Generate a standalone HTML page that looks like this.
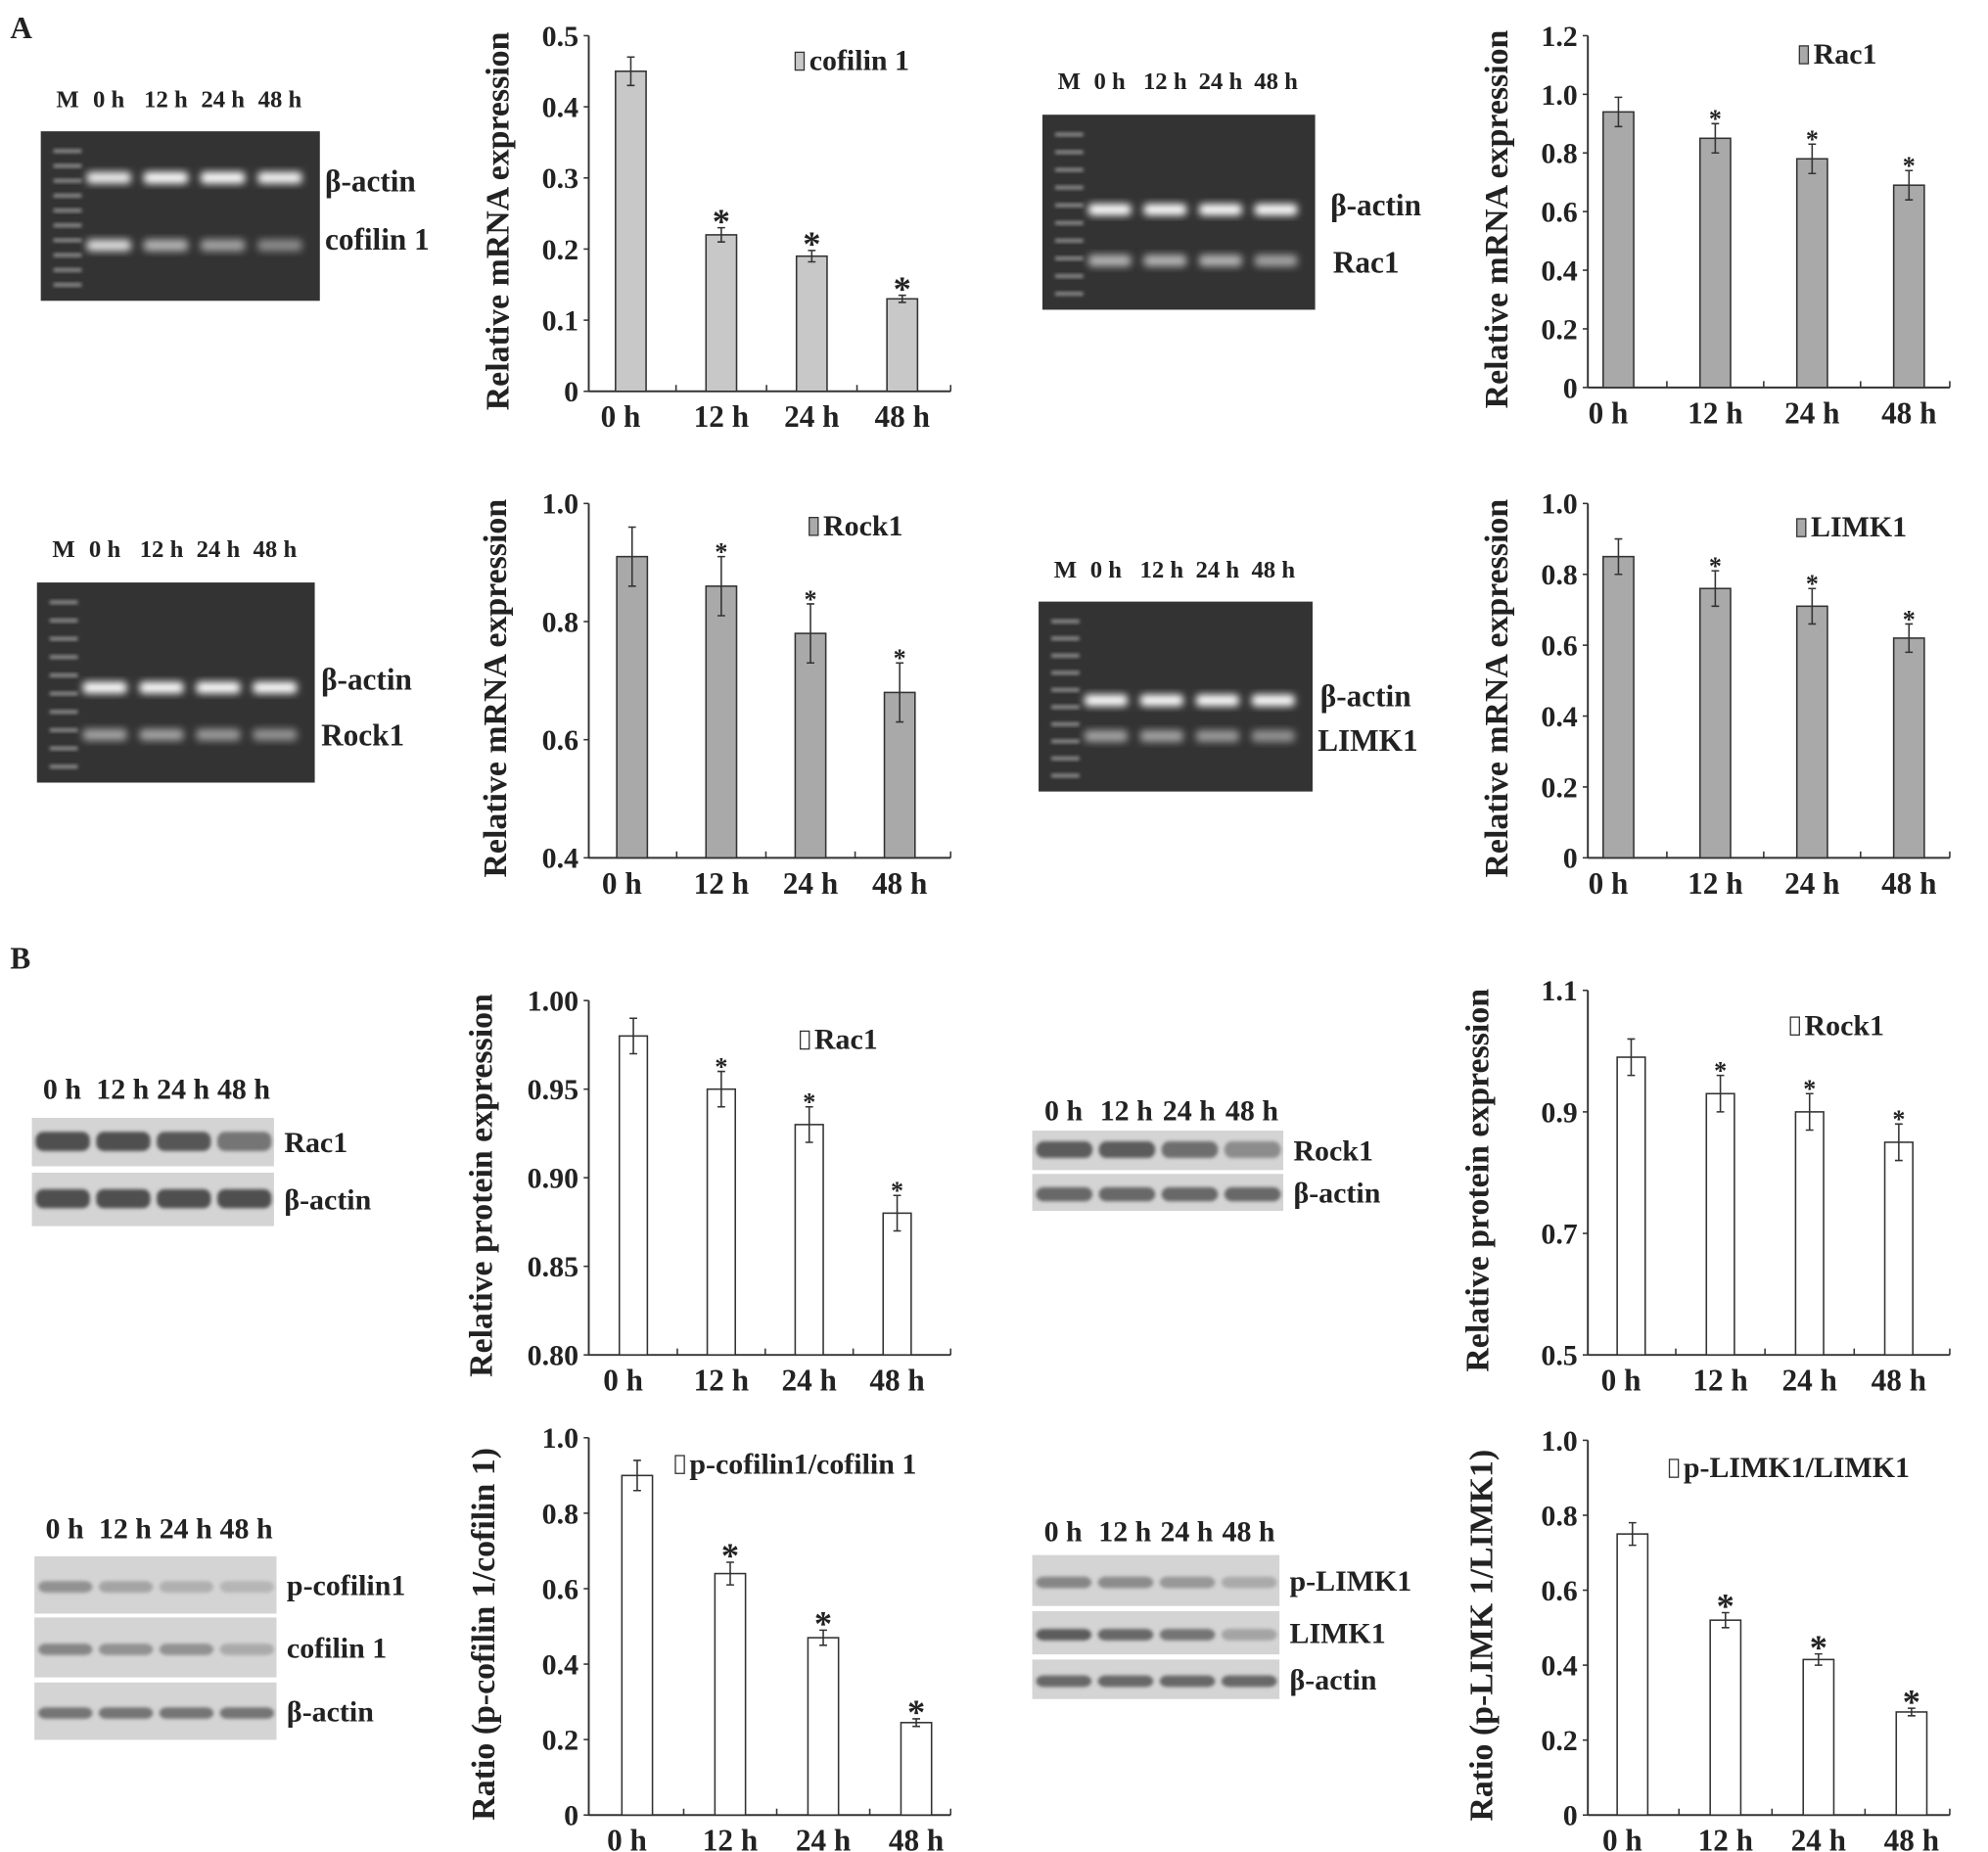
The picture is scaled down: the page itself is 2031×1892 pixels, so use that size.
<!DOCTYPE html>
<html><head><meta charset="utf-8"><style>
html,body{margin:0;padding:0;background:#fff;}
svg{display:block;}
text{font-family:"Liberation Serif",serif;font-weight:bold;fill:#222;}
</style></head><body>
<svg id="fig" xmlns="http://www.w3.org/2000/svg" width="2031" height="1892" viewBox="0 0 1560 1453" preserveAspectRatio="none">
<defs>
<filter id="blur" x="-20%" y="-50%" width="140%" height="200%"><feGaussianBlur stdDeviation="3"/></filter>
<filter id="blur2" x="-20%" y="-50%" width="140%" height="200%"><feGaussianBlur stdDeviation="1.5"/></filter>
</defs>
<text x="8" y="30" font-size="24">A</text>
<text x="8" y="760" font-size="24">B</text>
</svg>
<script>
const categories = ["0 h", "12 h", "24 h", "48 h"];
const cofilinMrnaVals = [0.45, 0.22, 0.19, 0.13];
const cofilinMrnaErr = [0.02, 0.01, 0.008, 0.005];
const rac1MrnaVals = [0.94, 0.85, 0.78, 0.69];
const rac1MrnaErr = [0.05, 0.05, 0.05, 0.05];
const rock1MrnaVals = [0.91, 0.86, 0.78, 0.68];
const rock1MrnaErr = [0.05, 0.05, 0.05, 0.05];
const limk1MrnaVals = [0.85, 0.76, 0.71, 0.62];
const limk1MrnaErr = [0.05, 0.05, 0.05, 0.04];
const rac1ProtVals = [0.98, 0.95, 0.93, 0.88];
const rac1ProtErr = [0.01, 0.01, 0.01, 0.01];
const rock1ProtVals = [0.99, 0.93, 0.90, 0.85];
const rock1ProtErr = [0.03, 0.03, 0.03, 0.03];
const pcofRatioVals = [0.90, 0.64, 0.47, 0.245];
const pcofRatioErr = [0.04, 0.03, 0.02, 0.01];
const plimkRatioVals = [0.75, 0.52, 0.415, 0.275];
const plimkRatioErr = [0.03, 0.02, 0.015, 0.01];
const starFlags = [false, true, true, true];
const ticksA1 = ["0", "0.1", "0.2", "0.3", "0.4", "0.5"];
const ticksA2 = ["0", "0.2", "0.4", "0.6", "0.8", "1.0", "1.2"];
const ticksA3 = ["0.4", "0.6", "0.8", "1.0"];
const ticksA4 = ["0", "0.2", "0.4", "0.6", "0.8", "1.0"];
const ticksB1 = ["0.80", "0.85", "0.90", "0.95", "1.00"];
const ticksB2 = ["0.5", "0.7", "0.9", "1.1"];
const ticksB3 = ["0", "0.2", "0.4", "0.6", "0.8", "1.0"];
const ticksB4 = ["0", "0.2", "0.4", "0.6", "0.8", "1.0"];

const NS = "http://www.w3.org/2000/svg";
const svg = document.getElementById("fig");
function mk(tag, attrs, parent) {
  const e = document.createElementNS(NS, tag);
  for (const k in attrs) e.setAttribute(k, attrs[k]);
  (parent || svg).appendChild(e);
  return e;
}
function txt(x, y, s, size, parent, anchor) {
  const t = mk("text", {x: x, y: y, "font-size": size, "text-anchor": anchor || "start"}, parent);
  t.textContent = s;
  return t;
}

const charts = [
  {id: "cofilin1-mrna", vals: cofilinMrnaVals, err: cofilinMrnaErr, ticks: ticksA1, min: 0, max: 0.5, ax: 462, y0: 307, y1: 28, first: 33, step: 71, bw: 24, fill: "#c8c8c8", legend: "cofilin 1", lx: 624, ly: 55, title: "Relative mRNA expression", tx: 399, starSize: 28},
  {id: "rac1-mrna", vals: rac1MrnaVals, err: rac1MrnaErr, ticks: ticksA2, min: 0, max: 1.2, ax: 1246, y0: 304, y1: 28, first: 24, step: 76, bw: 24, fill: "#a9a9a9", legend: "Rac1", lx: 1412, ly: 50, title: "Relative mRNA expression", tx: 1183, starSize: 20},
  {id: "rock1-mrna", vals: rock1MrnaVals, err: rock1MrnaErr, ticks: ticksA3, min: 0.4, max: 1.0, ax: 462, y0: 673, y1: 395, first: 34, step: 70, bw: 24, fill: "#a9a9a9", legend: "Rock1", lx: 635, ly: 420, title: "Relative mRNA expression", tx: 397, starSize: 20},
  {id: "limk1-mrna", vals: limk1MrnaVals, err: limk1MrnaErr, ticks: ticksA4, min: 0, max: 1.0, ax: 1246, y0: 673, y1: 395, first: 24, step: 76, bw: 24, fill: "#a9a9a9", legend: "LIMK1", lx: 1410, ly: 421, title: "Relative mRNA expression", tx: 1183, starSize: 20},
  {id: "rac1-protein", vals: rac1ProtVals, err: rac1ProtErr, ticks: ticksB1, min: 0.8, max: 1.0, ax: 462, y0: 1063, y1: 785, first: 35, step: 69, bw: 22, fill: "#ffffff", legend: "Rac1", lx: 628, ly: 823, title: "Relative protein expression", tx: 386, starSize: 20},
  {id: "rock1-protein", vals: rock1ProtVals, err: rock1ProtErr, ticks: ticksB2, min: 0.5, max: 1.1, ax: 1246, y0: 1063, y1: 777, first: 34, step: 70, bw: 22, fill: "#ffffff", legend: "Rock1", lx: 1405, ly: 812, title: "Relative protein expression", tx: 1168, starSize: 20},
  {id: "pcofilin-ratio", vals: pcofRatioVals, err: pcofRatioErr, ticks: ticksB3, min: 0, max: 1.0, ax: 462, y0: 1424, y1: 1128, first: 38, step: 73, bw: 24, fill: "#ffffff", legend: "p-cofilin1/cofilin 1", lx: 530, ly: 1156, title: "Ratio (p-cofilin 1/cofilin 1)", tx: 388, starSize: 28},
  {id: "plimk1-ratio", vals: plimkRatioVals, err: plimkRatioErr, ticks: ticksB4, min: 0, max: 1.0, ax: 1246, y0: 1424, y1: 1130, first: 35, step: 73, bw: 24, fill: "#ffffff", legend: "p-LIMK1/LIMK1", lx: 1310, ly: 1159, title: "Ratio (p-LIMK 1/LIMK1)", tx: 1171, starSize: 28}
];

charts.forEach(c => {
  const g = mk("g", {});
  
  
  const y = v => c.y0 - (v - c.min) / (c.max - c.min) * (c.y0 - c.y1);
  const x = i => c.ax + c.first + i * c.step;
  const xEnd = c.ax + 284;
  const ya = mk("line", {x1: c.ax, y1: c.y1, x2: c.ax, y2: c.y0, stroke: "#333", "stroke-width": 1.5}, g);
  
  
  const xa = mk("line", {x1: c.ax, y1: c.y0, x2: xEnd, y2: c.y0, stroke: "#333", "stroke-width": 1.5}, g);
  
  
  c.ticks.forEach(tk => {
    const v = parseFloat(tk);
    mk("line", {x1: c.ax - 4, y1: y(v), x2: c.ax, y2: y(v), stroke: "#333", "stroke-width": 1.2}, g);
    const t = txt(c.ax - 8, y(v) + 8, tk, 23, g, "end");
    
    
  });
  for (let i = 1; i < categories.length; i++) {
    const xt = (x(i - 1) + x(i)) / 2;
    mk("line", {x1: xt, y1: c.y0, x2: xt, y2: c.y0 - 5, stroke: "#333", "stroke-width": 1.2}, g);
  }
  mk("line", {x1: xEnd, y1: c.y0, x2: xEnd, y2: c.y0 - 5, stroke: "#333", "stroke-width": 1.2}, g);
  categories.forEach((cat, i) => {
    const t = txt(x(i) + (i === 0 ? -8 : 0), c.y0 + 28, cat, 24, g, "middle");
    
    
    const top = y(c.vals[i]);
    const b = mk("rect", {x: x(i) - c.bw / 2, y: top, width: c.bw, height: c.y0 - top, fill: c.fill, stroke: "#333", "stroke-width": 1.2}, g);
    
    
    const eh = y(c.vals[i] + c.err[i]), el = y(c.vals[i] - c.err[i]);
    const eb = mk("path", {d: `M${x(i)},${eh}V${el}M${x(i)-3},${eh}H${x(i)+3}M${x(i)-3},${el}H${x(i)+3}`, stroke: "#333", "stroke-width": 1.2, fill: "none"}, g);
    
    
    if (starFlags[i]) {
      const s = txt(x(i), eh + (c.starSize > 22 ? 4 : 3), "*", c.starSize, g, "middle");
      
      
    }
  });
  const lb = mk("rect", {x: c.lx, y: c.ly - 14, width: 7, height: 14, fill: c.fill, stroke: "#333", "stroke-width": 1}, g);
  
  
  const lt = txt(c.lx + 11, c.ly, c.legend, 23, g);
  
  
  const ty = (c.y0 + c.y1) / 2 + 6;
  const tt = txt(c.tx, ty, c.title, 26, g, "middle");
  tt.setAttribute("transform", `rotate(-90 ${c.tx} ${ty})`);
  
  
});

const gels = [
  {id: "gel-cofilin1", x: 32, y: 103, w: 219, h: 133, hy: 84, bands: [[140, 1], [193, 0.6]], bandInt: [[0.9, 1, 1, 0.95], [0.8, 0.55, 0.45, 0.3]], labels: [["β-actin", 255, 150], ["cofilin 1", 255, 196]]},
  {id: "gel-rac1", x: 818, y: 90, w: 214, h: 153, hy: 70, bands: [[165, 1], [205, 0.5]], bandInt: [[1, 1, 1, 1], [0.55, 0.55, 0.55, 0.45]], labels: [["β-actin", 1044, 169], ["Rac1", 1046, 214]]},
  {id: "gel-rock1", x: 29, y: 457, w: 218, h: 157, hy: 437, bands: [[540, 1], [577, 0.45]], bandInt: [[1, 1, 1, 1], [0.45, 0.45, 0.4, 0.35]], labels: [["β-actin", 252, 541], ["Rock1", 252, 585]]},
  {id: "gel-limk1", x: 815, y: 472, w: 215, h: 149, hy: 453, bands: [[550, 1], [578, 0.45]], bandInt: [[1, 1, 1, 1], [0.45, 0.45, 0.4, 0.35]], labels: [["β-actin", 1036, 554], ["LIMK1", 1034, 589]]}
];
gels.forEach(gl => {
  const g = mk("g", {});
  
  
  mk("rect", {x: gl.x, y: gl.y, width: gl.w, height: gl.h, fill: "#333"}, g);
  const lane0 = gl.x + 28, lw = (gl.w - 40) / 4;
  for (let k = 0; k < 10; k++) {
    mk("rect", {x: gl.x + 10, y: gl.y + 14 + k * (gl.h - 28) / 9, width: 22, height: 3, fill: "#8a8a8a", filter: "url(#blur2)"}, g);
  }
  gl.bands.forEach((bd, bi) => {
    for (let l = 0; l < 4; l++) {
      const a = gl.bandInt[bi][l];
      const c = Math.round(90 + 165 * a);
      mk("rect", {x: lane0 + 8 + l * lw, y: bd[0] - 5, width: lw - 10, height: 9, rx: 3, fill: `rgb(${c},${c},${c})`, filter: "url(#blur)"}, g);
    }
  });
  const hdr = ["M", "0 h", "12 h", "24 h", "48 h"];
  hdr.forEach((h, i) => {
    const hx = i === 0 ? gl.x + 21 : lane0 + 3 + (i - 1) * lw + lw / 2;
    const t = txt(hx, gl.hy, h, 19, g, "middle");
    
    
  });
  gl.labels.forEach(lb => {
    const t = txt(lb[1], lb[2], lb[0], 24, g);
    
    
  });
});

const blots = [
  {id: "blot-rac1", x: 25, w: 190, hy: 862, strips: [[877, 38, "Rac1", [1, 1, 0.95, 0.7], 6], [920, 42, "β-actin", [1, 1, 1, 1], 6]]},
  {id: "blot-rock1", x: 810, w: 197, hy: 879, strips: [[887, 31, "Rock1", [0.9, 0.9, 0.75, 0.5], 5], [921, 29, "β-actin", [0.8, 0.8, 0.8, 0.8], 4]]},
  {id: "blot-pcofilin", x: 27, w: 190, hy: 1207, strips: [[1221, 45, "p-cofilin1", [0.45, 0.3, 0.2, 0.15], 3], [1269, 47, "cofilin 1", [0.55, 0.45, 0.45, 0.25], 3], [1320, 45, "β-actin", [0.7, 0.7, 0.7, 0.7], 3]]},
  {id: "blot-plimk1", x: 810, w: 194, hy: 1209, strips: [[1220, 40, "p-LIMK1", [0.55, 0.5, 0.4, 0.25], 3], [1264, 34, "LIMK1", [0.9, 0.8, 0.7, 0.3], 3], [1302, 31, "β-actin", [0.8, 0.8, 0.8, 0.8], 3]]}
];
blots.forEach(bl => {
  const g = mk("g", {});
  
  
  const lw = bl.w / 4;
  ["0 h", "12 h", "24 h", "48 h"].forEach((h, i) => {
    const t = txt(bl.x + lw * i + lw / 2, bl.hy, h, 23, g, "middle");
    
    
  });
  bl.strips.forEach(s => {
    mk("rect", {x: bl.x, y: s[0], width: bl.w, height: s[1], fill: "#d4d4d4"}, g);
    for (let l = 0; l < 4; l++) {
      const a = s[3][l];
      const c = Math.round(200 - 120 * a);
      mk("rect", {x: bl.x + l * lw + 3, y: s[0] + s[1] / 2 - s[4] - (s[4] > 4 ? 2 : 0), width: lw - 5, height: s[4] * 2 + 3, rx: 6, fill: `rgb(${c},${c},${c})`, filter: "url(#blur2)"}, g);
    }
    const t = txt(bl.x + bl.w + 8, s[0] + s[1] / 2 + 8, s[2], 23, g);
    
    
  });
});
</script>
</body></html>
